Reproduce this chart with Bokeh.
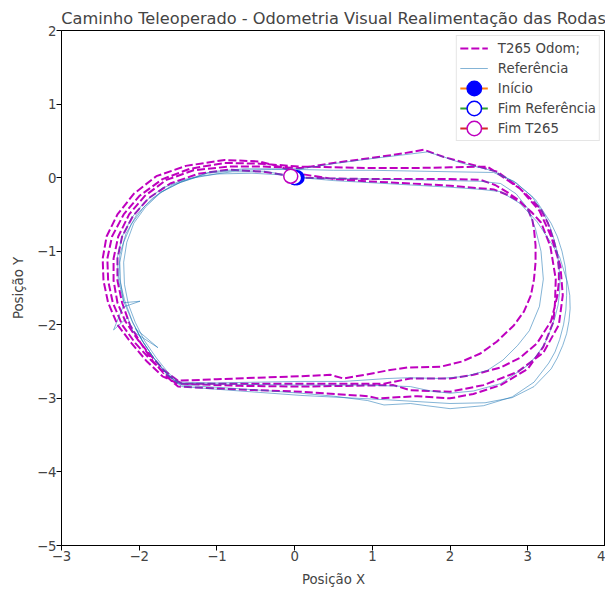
from bokeh.plotting import figure
from bokeh.models import FixedTicker, Range1d, Legend, LegendItem
from bokeh.embed import file_html
from bokeh.resources import INLINE

title = "Caminho Teleoperado - Odometria Visual Realimentação das Rodas"
x_ticks = [-3, -2, -1, 0, 1, 2, 3, 4]
y_ticks = [-5, -4, -3, -2, -1, 0, 1, 2]

# Reference path (4 laps)
ref_x = [0, 0.5, 1.0, 1.5, 2.0, 2.4, 2.65, 2.85, 3.0, 3.1, 3.17, 3.2, 3.15, 3.02, 2.87, 2.68, 2.48, 2.2, 1.88, 1.45, 1.2, 0.63, 0.08, -0.5, -1.0, -1.49, -1.62, -1.78, -1.93, -2.05, -2.14, -2.19, -2.2, -2.16, -2.07, -1.92, -1.72, -1.46, -1.12, -0.72, -0.3, 0.08,
         0.5, 1.0, 1.5, 2.0, 2.56, 2.82, 3.05, 3.22, 3.29, 3.34, 3.38, 3.4, 3.415, 3.41, 3.39, 3.35, 3.29, 3.22, 3.12, 3.0, 2.65, 2.3, 2.0, 1.75, 1.49, 0.94, 0.08, -0.7, -1.5, -1.66, -1.82, -1.97, -2.05, -1.76, -2.08, -2.15, -2.33, -2.21, -1.99, -2.2, -2.24, -2.25, -2.2, -2.1, -1.94, -1.73, -1.45, -1.08, -0.65, -0.25, 0.08,
         0.5, 1.0, 1.4, 1.71, 1.95, 2.14, 2.56, 2.85, 3.1, 3.3, 3.38, 3.44, 3.48, 3.5, 3.5, 3.49, 3.46, 3.41, 3.35, 3.27, 3.08, 2.8, 2.43, 2.0, 1.7, 1.49, 1.15, 0.94, 0.5, 0.08, -0.7, -1.45, -1.64, -1.8, -1.96, -2.09, -2.19, -2.26, -2.25, -2.17, -2.03, -1.83, -1.57, -1.22, -0.8, -0.35, 0.08,
         0.5, 1.0, 1.5, 2.0, 2.4, 2.65, 2.9, 3.12, 3.32, 3.41, 3.46, 3.51, 3.54, 3.545, 3.53, 3.5, 3.45, 3.38, 3.3, 3.08, 2.8, 2.45, 2.0, 1.2, 0.08, -0.7, -1.45, -1.62, -1.78, -1.94, -2.08, -2.2, -2.27, -2.28, -2.22, -2.1, -1.93, -1.7, -1.4, -1.0, -0.55, -0.2, 0.0]
ref_y = [0, -0.01, -0.02, -0.03, -0.04, -0.05, -0.08, -0.22, -0.42, -0.7, -1.0, -1.38, -1.75, -2.08, -2.28, -2.48, -2.62, -2.7, -2.73, -2.72, -2.73, -2.77, -2.77, -2.78, -2.79, -2.78, -2.66, -2.45, -2.22, -1.97, -1.72, -1.45, -1.15, -0.88, -0.62, -0.4, -0.2, -0.06, 0.06, 0.1, 0.11, 0.11,
         0.1, 0.1, 0.09, 0.08, 0.07, -0.05, -0.25, -0.52, -0.68, -0.85, -1.02, -1.2, -1.38, -1.55, -1.73, -1.9, -2.08, -2.25, -2.41, -2.55, -2.8, -2.9, -2.93, -2.9, -2.84, -2.82, -2.82, -2.81, -2.8, -2.64, -2.44, -2.2, -2.05, -2.31, -2.09, -1.9, -2.07, -1.76, -1.68, -1.7, -1.42, -1.15, -0.88, -0.63, -0.4, -0.2, -0.05, 0.08, 0.12, 0.12, 0.12,
         0.19, 0.26, 0.31, 0.35, 0.27, 0.2, 0.09, -0.07, -0.3, -0.62, -0.8, -1.0, -1.2, -1.4, -1.6, -1.8, -2.0, -2.2, -2.37, -2.52, -2.78, -2.98, -3.1, -3.14, -3.1, -3.07, -3.09, -3.03, -2.97, -2.93, -2.87, -2.82, -2.68, -2.47, -2.22, -1.95, -1.66, -1.35, -1.05, -0.76, -0.5, -0.28, -0.1, 0.02, 0.08, 0.08, 0.0,
         -0.04, -0.07, -0.1, -0.13, -0.16, -0.19, -0.35, -0.6, -0.92, -1.08, -1.25, -1.42, -1.6, -1.78, -1.95, -2.12, -2.28, -2.45, -2.6, -2.84, -2.99, -3.06, -3.07, -3.02, -2.96, -2.9, -2.84, -2.7, -2.5, -2.25, -1.98, -1.68, -1.38, -1.08, -0.8, -0.55, -0.33, -0.14, -0.02, 0.05, 0.06, 0.04, 0.0]

# T265 odometry path (4 laps)
t265_x = [0, 0.5, 1.0, 1.5, 2.0, 2.39, 2.58, 2.74, 2.9, 3.0, 3.06, 3.08, 3.1, 3.1, 3.08, 3.04, 2.95, 2.82, 2.6, 2.39, 2.15, 1.88, 1.45, 1.2, 0.9, 0.63, 0.46, 0.08, -0.5, -1.0, -1.5, -1.68, -1.85, -2.02, -2.18, -2.28, -2.33, -2.33, -2.27, -2.13, -1.93, -1.65, -1.3, -0.85, -0.4, 0.08,
          0.5, 1.0, 1.4, 1.66, 1.92, 2.27, 2.61, 2.87, 3.05, 3.17, 3.26, 3.33, 3.38, 3.4, 3.4, 3.38, 3.3, 3.12, 2.9, 2.65, 2.3, 2.0, 1.49, 1.15, 0.5, 0.08, -0.7, -1.45, -1.65, -1.85, -2.05, -2.22, -2.34, -2.4, -2.41, -2.35, -2.2, -2.0, -1.7, -1.35, -0.9, -0.45, 0.08,
          0.5, 1.0, 1.5, 2.0, 2.48, 2.61, 2.9, 3.15, 3.3, 3.42, 3.45, 3.4, 3.2, 2.87, 2.43, 2.0, 1.49, 1.27, 0.08, -0.7, -1.5, -1.7, -1.9, -2.1, -2.28, -2.4, -2.46, -2.47, -2.42, -2.28, -2.07, -1.78, -1.4, -0.9, -0.45, -0.2, 0.08,
          0.5, 0.94, 1.5, 2.0, 2.56, 2.75, 2.91, 3.05, 3.17, 3.29, 3.36, 3.35, 3.33, 3.2, 3.0, 2.65, 2.3, 2.0, 1.58, 1.07, 0.94, 0.08, -0.7, -1.5, -1.65, -1.82, -1.98, -2.12, -2.22, -2.28, -2.28, -2.22, -2.08, -1.88, -1.6, -1.25, -0.85, -0.4, -0.05]
t265_y = [0, -0.01, -0.02, -0.02, -0.02, -0.03, -0.1, -0.2, -0.32, -0.43, -0.58, -0.7, -0.92, -1.15, -1.38, -1.6, -1.82, -2.01, -2.23, -2.39, -2.5, -2.57, -2.58, -2.62, -2.68, -2.73, -2.68, -2.7, -2.72, -2.74, -2.76, -2.62, -2.42, -2.2, -1.95, -1.7, -1.4, -1.1, -0.8, -0.5, -0.25, -0.03, 0.1, 0.15, 0.15, 0.13,
          0.2, 0.27, 0.33, 0.38, 0.28, 0.18, 0.08, -0.12, -0.3, -0.43, -0.62, -0.84, -1.04, -1.24, -1.42, -1.61, -1.95, -2.25, -2.45, -2.58, -2.68, -2.73, -2.73, -2.8, -2.8, -2.8, -2.8, -2.8, -2.68, -2.48, -2.25, -2.0, -1.7, -1.4, -1.1, -0.8, -0.5, -0.25, -0.02, 0.12, 0.2, 0.19, 0.15,
          0.14, 0.13, 0.13, 0.14, 0.15, 0.06, -0.15, -0.45, -0.8, -1.2, -1.6, -2.0, -2.38, -2.64, -2.82, -2.91, -2.89, -2.82, -2.84, -2.83, -2.8, -2.7, -2.5, -2.25, -2.0, -1.7, -1.4, -1.1, -0.8, -0.5, -0.22, 0.02, 0.16, 0.24, 0.22, 0.15, 0.05,
          -0.02, -0.05, -0.08, -0.11, -0.16, -0.24, -0.34, -0.47, -0.61, -0.93, -1.38, -1.7, -1.96, -2.3, -2.6, -2.82, -2.94, -3.0, -2.97, -3.0, -2.97, -2.91, -2.88, -2.84, -2.7, -2.5, -2.25, -2.0, -1.7, -1.4, -1.1, -0.8, -0.52, -0.28, -0.08, 0.05, 0.11, 0.08, 0.02]

start_pt = (0.03, 0.0)
end_ref = (0.0, 0.0)
end_t265 = (-0.05, 0.02)

FONT = "DejaVu Sans"
MAGENTA = "#bf00bf"
BLUE = "#1f77b4"

p = figure(width=605, height=589, output_backend="svg", toolbar_location=None,
           x_range=Range1d(x_ticks[0], x_ticks[-1]), y_range=Range1d(y_ticks[0], y_ticks[-1]),
           min_border_left=61, min_border_right=0, min_border_top=30, min_border_bottom=41)
p.title.text = title
p.title.align = "center"
p.title.text_font = FONT
p.title.text_font_size = "16.2px"
p.title.text_font_style = "normal"
p.title.standoff = 6
p.grid.visible = False
p.outline_line_color = "black"
p.outline_line_alpha = 1
p.background_fill_color = "white"

for ax, ticks, lab, lstand in ((p.xaxis[0], x_ticks, "Posição X", 8), (p.yaxis[0], y_ticks, "Posição Y", 8)):
    ax.ticker = FixedTicker(ticks=ticks)
    ax.major_label_overrides = {t: (("\u2212" + str(abs(t))) if t < 0 else str(t)) for t in ticks}
    ax.minor_tick_line_color = None
    ax.major_tick_in = 0
    ax.major_tick_out = 5
    ax.major_label_standoff = 0
    ax.axis_label = lab
    ax.axis_label_text_font = FONT
    ax.axis_label_text_font_size = "13.3px"
    ax.axis_label_text_font_style = "normal"
    ax.axis_label_standoff = lstand
    ax.major_label_text_font = FONT
    ax.major_label_text_font_size = "13.3px"
    ax.axis_line_color = "black"
    ax.major_tick_line_color = "black"

r_t = p.line(t265_x, t265_y, line_color=MAGENTA, line_width=2, line_dash="8 3")
r_r = p.line(ref_x, ref_y, line_color=BLUE, line_width=1, line_alpha=0.55)

l1 = p.line([start_pt[0]], [start_pt[1]], line_color="#ff7f0e", line_width=2)
m1 = p.ellipse([start_pt[0]], [start_pt[1]], width=14, height=14, width_units="screen",
               height_units="screen", fill_color="blue", line_color="blue", line_width=1.5)
l2 = p.line([end_ref[0]], [end_ref[1]], line_color="#2ca02c", line_width=2)
m2 = p.ellipse([end_ref[0]], [end_ref[1]], width=14, height=14, width_units="screen",
               height_units="screen", fill_color="white", line_color="blue", line_width=1.5)
l3 = p.line([end_t265[0]], [end_t265[1]], line_color="#d62728", line_width=2)
m3 = p.ellipse([end_t265[0]], [end_t265[1]], width=14, height=14, width_units="screen",
               height_units="screen", fill_color="white", line_color=MAGENTA, line_width=1.5)

legend = Legend(items=[
    LegendItem(label="T265 Odom;", renderers=[r_t]),
    LegendItem(label="Referência", renderers=[r_r]),
    LegendItem(label="Início", renderers=[l1, m1]),
    LegendItem(label="Fim Referência", renderers=[l2, m2]),
    LegendItem(label="Fim T265", renderers=[l3, m3]),
], location="top_right", margin=5, padding=3, spacing=2, glyph_height=18, glyph_width=28,
    label_height=18, label_standoff=10, label_text_font=FONT, label_text_font_size="13.3px",
    border_line_color="#cccccc", background_fill_alpha=0.8)
p.add_layout(legend)

open("out.html", "w").write(file_html(p, INLINE))
